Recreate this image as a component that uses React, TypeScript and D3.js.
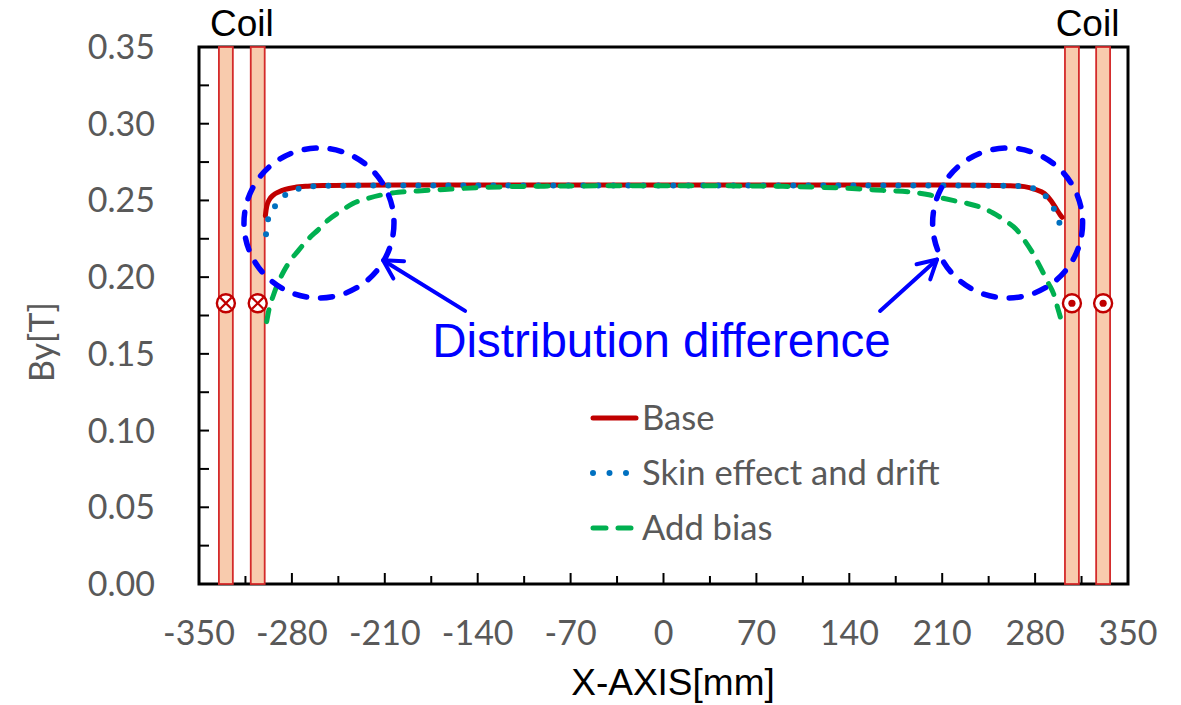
import React from 'react';
import * as d3 from 'd3';

// ---- Data (x in mm, By in T) ----
const baseX = [-300, -299, -297, -294, -290, -285, -278, -268, -255, -235, -200, -100, 0, 100, 200, 240, 260, 272, 280, 287, 292, 296, 299, 300.3];
const baseY = [0.240, 0.246, 0.2505, 0.2535, 0.2555, 0.2572, 0.2585, 0.2593, 0.2597, 0.2599, 0.26, 0.26, 0.26, 0.26, 0.26, 0.2599, 0.2596, 0.259, 0.2572, 0.2545, 0.2498, 0.2445, 0.2405, 0.239];

const skinX = [-299.5, -298, -295, -292, -288, -284, -279, -273, -262, -245, -220, -150, 0, 150, 220, 245, 266, 278, 284, 288, 291, 294.3, 296.5, 298.1, 299];
const skinY = [0.228, 0.2375, 0.2435, 0.247, 0.251, 0.2542, 0.2565, 0.2581, 0.2593, 0.2596, 0.2597, 0.2598, 0.2598, 0.2598, 0.2597, 0.2596, 0.2594, 0.2581, 0.2555, 0.2528, 0.2495, 0.2444, 0.2405, 0.236, 0.234];

const biasX = [-299, -297, -294, -291, -286, -281, -275, -268, -260, -253, -244, -234, -224, -213, -200, -185, -160, -140, -120, -90, -50, 0, 50, 90, 113, 130, 148, 165, 186, 200, 208, 218, 229, 239, 248, 257, 266, 272, 278, 283, 286, 290, 294, 297, 299];
const biasY = [0.171, 0.180, 0.188, 0.195, 0.204, 0.211, 0.2175, 0.2245, 0.231, 0.237, 0.2425, 0.248, 0.251, 0.2535, 0.2553, 0.2562, 0.2574, 0.2583, 0.2589, 0.2593, 0.2595, 0.2596, 0.2595, 0.2592, 0.2587, 0.2582, 0.2575, 0.2566, 0.2555, 0.2537, 0.252, 0.250, 0.248, 0.2455, 0.242, 0.237, 0.231, 0.224, 0.216, 0.208, 0.203, 0.196, 0.189, 0.180, 0.174];

const seriesNames = ['Base', 'Skin effect and drift', 'Add bias'];
const xTickLabels = [-350, -280, -210, -140, -70, 0, 70, 140, 210, 280, 350];
const xMinorTicks = [-315, -245, -175, -105, -35, 35, 105, 175, 245, 315];
const yTickLabels = [0, 0.05, 0.1, 0.15, 0.2, 0.25, 0.3, 0.35];
const yMinorTicks = [0.025, 0.075, 0.125, 0.175, 0.225, 0.275, 0.325];

// coils: [x0, x1] in mm, current direction
const coilX0 = [-335, -311, 302.5, 326];
const coilX1 = [-324.5, -300.5, 313, 336.5];
const coilDir = ['in', 'in', 'out', 'out'];
const coilSymbolY = 0.183;

// annotation circles (centre in data units)
const circleCX = [-259.6, 259.3];
const circleCY = [0.2353, 0.2353];
// arrows: tail -> tip
const arrowTailX = [-149.5, 163.2];
const arrowTailY = [0.178, 0.178];
const arrowTipX = [-211.3, 206.1];
const arrowTipY = [0.211, 0.2115];

const GRAY = '#595959';
const SANS = 'Lato, "Open Sans", sans-serif';
const ARIAL = '"Liberation Sans", Arial, sans-serif';

export default function App() {
  const W = 1181, H = 705;
  const x = d3.scaleLinear().domain([-350, 350]).range([199, 1128]);
  const y = d3.scaleLinear().domain([0, 0.35]).range([584, 47]);
  const line = d3.line<number[]>().x(d => x(d[0])).y(d => y(d[1])).curve(d3.curveMonotoneX);
  const base = baseX.map((v, i) => [v, baseY[i]]);
  const skin = skinX.map((v, i) => [v, skinY[i]]);
  const bias = biasX.map((v, i) => [v, biasY[i]]);
  const [x0, x1] = x.range();
  const [yb, yt] = y.range();
  const fmtY = d3.format('.2f');
  const circR = 75;

  const arrowHead = (tx: number, ty: number, fx: number, fy: number) => {
    const ang = Math.atan2(ty - fy, tx - fx);
    const L = 21, a = Math.PI / 6.2;
    const p1 = [tx - L * Math.cos(ang - a), ty - L * Math.sin(ang - a)];
    const p2 = [tx - L * Math.cos(ang + a), ty - L * Math.sin(ang + a)];
    return `M${p1[0]},${p1[1]}L${tx},${ty}L${p2[0]},${p2[1]}`;
  };

  const legendY = [418, 473, 528];
  const legendStyles = [
    { stroke: '#C00000', dash: undefined, width: 5 },
    { stroke: '#0070C0', dash: '0 16.5', width: 6 },
    { stroke: '#00B050', dash: '13 12', width: 5 },
  ];

  return (
    <svg width={W} height={H} style={{ position: 'absolute', left: 0, top: 0, background: '#fff' }}>
      {/* frame */}
      <rect x={x0} y={yt} width={x1 - x0} height={yb - yt} fill="none" stroke="#000" strokeWidth={3} />
      {/* x ticks */}
      {xTickLabels.map(t => (
        <g key={'xt' + t}>
          <line x1={x(t)} x2={x(t)} y1={yb} y2={yb - 11} stroke="#000" strokeWidth={2} />
          <text x={x(t)} y={645} textAnchor="middle" fontFamily={SANS} fontSize={34} fill={GRAY}>{t}</text>
        </g>
      ))}
      {xMinorTicks.map(t => (
        <line key={'xm' + t} x1={x(t)} x2={x(t)} y1={yb} y2={yb - 8} stroke="#000" strokeWidth={2} />
      ))}
      {/* y ticks */}
      {yTickLabels.map(t => (
        <g key={'yt' + t}>
          <line x1={x0} x2={x0 + 10} y1={y(t)} y2={y(t)} stroke="#000" strokeWidth={2} />
          <text x={155} y={y(t) + 12} textAnchor="end" fontFamily={SANS} fontSize={34} fill={GRAY}>{fmtY(t)}</text>
        </g>
      ))}
      {yMinorTicks.map(t => (
        <line key={'ym' + t} x1={x0} x2={x0 + 10} y1={y(t)} y2={y(t)} stroke="#000" strokeWidth={2} />
      ))}
      {/* axis titles */}
      <text x={673} y={695} textAnchor="middle" fontFamily={ARIAL} fontSize={37} fill="#000">X-AXIS[mm]</text>
      <text transform={`translate(54,342) rotate(-90)`} textAnchor="middle" fontFamily={SANS} fontSize={34} fill={GRAY}>By[T]</text>

      {/* coils */}
      {coilX0.map((c, i) => (
        <rect key={'coil' + i} x={x(c)} y={yt} width={x(coilX1[i]) - x(c)} height={yb - yt}
          fill="#F8CBAD" stroke="#D42A2A" strokeWidth={1.8} />
      ))}
      {coilX0.map((c, i) => {
        const cx = (x(c) + x(coilX1[i])) / 2, cy = y(coilSymbolY);
        const r = 9, k = 5.6;
        return (
          <g key={'sym' + i}>
            <circle cx={cx} cy={cy} r={r} fill="#fff" stroke="#C00000" strokeWidth={2.4} />
            {coilDir[i] === 'in' ? (
              <path d={`M${cx - k},${cy - k}L${cx + k},${cy + k}M${cx - k},${cy + k}L${cx + k},${cy - k}`} stroke="#C00000" strokeWidth={2.2} />
            ) : (
              <circle cx={cx} cy={cy} r={3.6} fill="#C00000" />
            )}
          </g>
        );
      })}
      <text x={(x(coilX0[0]) + x(coilX1[1])) / 2} y={36} textAnchor="middle" fontFamily={ARIAL} fontSize={37} fill="#000">Coil</text>
      <text x={(x(coilX0[2]) + x(coilX1[3])) / 2} y={36} textAnchor="middle" fontFamily={ARIAL} fontSize={37} fill="#000">Coil</text>

      {/* series */}
      <path d={line(base) || ''} fill="none" stroke="#C00000" strokeWidth={5} strokeLinecap="round" />
      <path d={line(skin) || ''} fill="none" stroke="#0070C0" strokeWidth={6} strokeDasharray="0 15" strokeLinecap="round" />
      <path d={line(bias) || ''} fill="none" stroke="#00B050" strokeWidth={5} strokeDasharray="12 12" strokeLinecap="round" />

      {/* annotations */}
      {circleCX.map((c, i) => (
        <circle key={'ac' + i} cx={x(c)} cy={y(circleCY[i])} r={circR} fill="none" stroke="#0000FF" strokeWidth={5.5}
          strokeDasharray="12 14" strokeLinecap="round" />
      ))}
      {arrowTailX.map((t, i) => {
        const fx = x(t), fy = y(arrowTailY[i]), tx = x(arrowTipX[i]), ty = y(arrowTipY[i]);
        return (
          <g key={'ar' + i}>
            <line x1={fx} y1={fy} x2={tx} y2={ty} stroke="#0000FF" strokeWidth={4} strokeLinecap="round" />
            <path d={arrowHead(tx, ty, fx, fy)} fill="none" stroke="#0000FF" strokeWidth={4} strokeLinecap="round" strokeLinejoin="round" />
          </g>
        );
      })}
      <text x={x(0) - 2} y={357} textAnchor="middle" fontFamily={ARIAL} fontSize={47.5} fill="#0000FF">Distribution difference</text>

      {/* legend */}
      {seriesNames.map((n, i) => (
        <g key={'lg' + i}>
          <line x1={593} x2={636} y1={legendY[i]} y2={legendY[i]} stroke={legendStyles[i].stroke}
            strokeWidth={legendStyles[i].width} strokeDasharray={legendStyles[i].dash} strokeLinecap="round" />
          <text x={642} y={legendY[i] + 12} fontFamily={SANS} fontSize={34.6} fill={GRAY}>{n}</text>
        </g>
      ))}
    </svg>
  );
}
